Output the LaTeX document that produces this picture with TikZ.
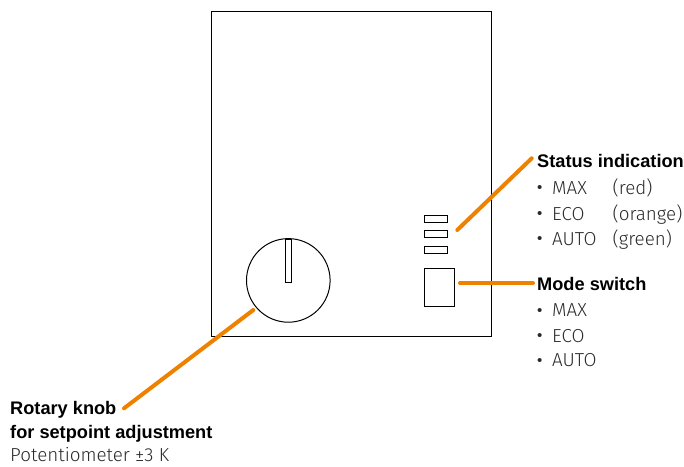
\documentclass[tikz,border=0pt]{standalone}
\usepackage{fontspec}
\setmainfont{Liberation Sans}
\newfontfamily\bodyfont{Fira Sans Light}
\begin{document}
\begin{tikzpicture}[x=1pt,y=-1pt,
  device/.style={draw=black,line width=1pt,fill=white,line join=miter},
  leader/.style={draw=leaderorange,line width=4pt,line cap=round},
  head/.style={anchor=base west,inner sep=0pt,font=\fontsize{18.2}{20}\selectfont\bfseries,text=black},
  body/.style={anchor=base west,inner sep=0pt,font=\fontsize{18.8}{20}\bodyfont\selectfont,text=bodygrey},
  dot/.style={anchor=base west,inner sep=0pt,font=\fontsize{15}{20}\selectfont,text=bodygrey}]
\definecolor{leaderorange}{HTML}{EE8100}
\definecolor{bodygrey}{HTML}{2A2A2A}
\useasboundingbox (0,0) rectangle (684,466);
\draw[device] (211,11) rectangle (491,336);
\node[device,circle,minimum size=83.6pt,inner sep=0pt] (knob) at (288.3,280.4) {};
\draw[device] (285,239) rectangle (291,282.3);
\draw[device] (424,215.3) rectangle (447,222);
\draw[device] (424,230.7) rectangle (447,237.7);
\draw[device] (424,246) rectangle (447,253.3);
\draw[device] (424,268) rectangle (454.3,306);
\coordinate (ledend) at (457.3,230);
\coordinate (statusend) at (531.7,158.3);
\coordinate (switchend) at (460,283);
\coordinate (modeend) at (533,283);
\coordinate (knobend) at (253.3,310);
\coordinate (rotaryend) at (124,408.3);
\draw[leader] (ledend) -- (statusend);
\draw[leader] (switchend) -- (modeend);
\draw[leader] (knobend) -- (rotaryend);
\node[head] (status) at (537,167.3) {Status indication};
\node[dot] (s1) at (537,192.5) {•};
\node[body] (s1a) at (552,194) {MAX};
\node[body] (s1b) at (612.5,194) {(red)};
\node[dot] (s2) at (537,218.5) {•};
\node[body] (s2a) at (552,220) {ECO};
\node[body] (s2b) at (612.5,220) {(orange)};
\node[dot] (s3) at (537,243.5) {•};
\node[body] (s3a) at (552,245) {AUTO};
\node[body] (s3b) at (612.5,245) {(green)};
\node[head] (mode) at (537,290.7) {Mode switch};
\node[dot] (m1) at (537,315.2) {•};
\node[body] (m1a) at (552,316.7) {MAX};
\node[dot] (m2) at (537,340.5) {•};
\node[body] (m2a) at (552,342) {ECO};
\node[dot] (m3) at (537,365.2) {•};
\node[body] (m3a) at (552,366.7) {AUTO};
\node[head] (rotary) at (10,414) {Rotary knob};
\node[head] (setpoint) at (10,438.3) {for setpoint adjustment};
\node[body] (pot) at (10,461.5) {Potentiometer ±3 K};
\end{tikzpicture}
\end{document}
